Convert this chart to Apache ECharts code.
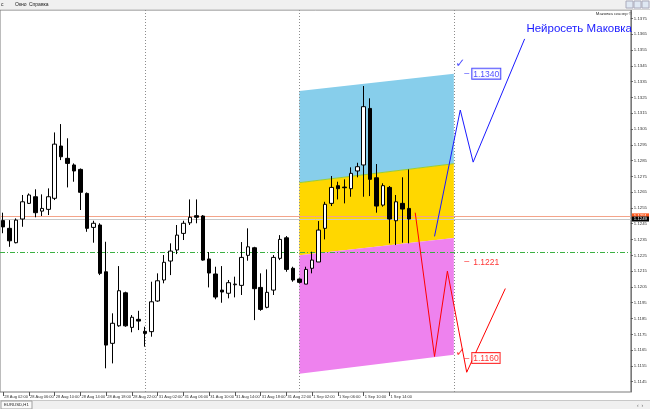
<!DOCTYPE html>
<html><head><meta charset="utf-8">
<script src="https://cdn.jsdelivr.net/npm/echarts@6/dist/echarts.min.js"></script>
<style>html,body{margin:0;padding:0;background:#fff;}#c{width:650px;height:409px;}</style>
</head><body><div id="c"></div>
<script>
const times = [
'28 Aug 02:00','28 Aug 03:00','28 Aug 04:00','28 Aug 05:00','28 Aug 06:00','28 Aug 07:00','28 Aug 08:00','28 Aug 09:00','28 Aug 10:00','28 Aug 11:00','28 Aug 12:00','28 Aug 13:00','28 Aug 14:00','28 Aug 15:00','28 Aug 16:00','28 Aug 17:00','28 Aug 18:00','28 Aug 19:00','28 Aug 20:00','28 Aug 21:00','28 Aug 22:00','28 Aug 23:00',
'31 Aug 00:00','31 Aug 01:00','31 Aug 02:00','31 Aug 03:00','31 Aug 04:00','31 Aug 05:00','31 Aug 06:00','31 Aug 07:00','31 Aug 08:00','31 Aug 09:00','31 Aug 10:00','31 Aug 11:00','31 Aug 12:00','31 Aug 13:00','31 Aug 14:00','31 Aug 15:00','31 Aug 16:00','31 Aug 17:00','31 Aug 18:00','31 Aug 19:00','31 Aug 20:00','31 Aug 21:00','31 Aug 22:00','31 Aug 23:00',
'1 Sep 00:00','1 Sep 01:00','1 Sep 02:00','1 Sep 03:00','1 Sep 04:00','1 Sep 05:00','1 Sep 06:00','1 Sep 07:00','1 Sep 08:00','1 Sep 09:00','1 Sep 10:00','1 Sep 11:00','1 Sep 12:00','1 Sep 13:00','1 Sep 14:00','1 Sep 15:00','1 Sep 16:00','1 Sep 17:00','1 Sep 18:00','1 Sep 19:00','1 Sep 20:00','1 Sep 21:00','1 Sep 22:00','1 Sep 23:00',
'2 Sep 00:00','2 Sep 01:00','2 Sep 02:00','2 Sep 03:00','2 Sep 04:00','2 Sep 05:00','2 Sep 06:00','2 Sep 07:00','2 Sep 08:00','2 Sep 09:00','2 Sep 10:00','2 Sep 11:00','2 Sep 12:00','2 Sep 13:00','2 Sep 14:00','2 Sep 15:00','2 Sep 16:00','2 Sep 17:00','2 Sep 18:00','2 Sep 19:00','2 Sep 20:00','2 Sep 21:00','2 Sep 22:00','2 Sep 23:00',
'3 Sep 00:00','3 Sep 01:00','3 Sep 02:00','3 Sep 03:00'
];
// only these time labels are printed on the axis (the last bar label is 1 Sep 14:00)
const timeTicksShown = ['28 Aug 02:00','28 Aug 06:00','28 Aug 10:00','28 Aug 14:00','28 Aug 18:00','28 Aug 22:00','31 Aug 02:00','31 Aug 06:00','31 Aug 10:00','31 Aug 14:00','31 Aug 18:00','31 Aug 22:00','1 Sep 02:00','1 Sep 06:00','1 Sep 10:00','1 Sep 14:00'];
// [open, close, low, high]
const ohlc = [
[1.12470,1.12430,1.12390,1.12520],
[1.12421,1.12342,1.12304,1.12473],
[1.12330,1.12473,1.12326,1.12484],
[1.12480,1.12589,1.12431,1.12632],
[1.12579,1.12632,1.12575,1.12642],
[1.12621,1.12520,1.12491,1.12668],
[1.12530,1.12547,1.12499,1.12636],
[1.12541,1.12621,1.12505,1.12674],
[1.12611,1.12954,1.12600,1.13028],
[1.12942,1.12874,1.12853,1.13081],
[1.12864,1.12832,1.12680,1.12991],
[1.12822,1.12784,1.12716,1.12832],
[1.12794,1.12649,1.12537,1.12800],
[1.12642,1.12421,1.12399,1.12648],
[1.12427,1.12453,1.12330,1.12469],
[1.12442,1.12136,1.12125,1.12453],
[1.12146,1.11682,1.11535,1.12336],
[1.11693,1.11820,1.11566,1.11883],
[1.11804,1.12026,1.11798,1.12182],
[1.12013,1.11804,1.11798,1.12020],
[1.11794,1.11858,1.11763,1.11872],
[1.11845,1.11834,1.11777,1.11899],
[1.11769,1.11756,1.11672,1.11798],
[1.11767,1.11956,1.11735,1.12083],
[1.11961,1.12089,1.11956,1.12136],
[1.12094,1.12206,1.12073,1.12252],
[1.12214,1.12277,1.12125,1.12326],
[1.12284,1.12378,1.12258,1.12442],
[1.12389,1.12453,1.12347,1.12469],
[1.12456,1.12491,1.12442,1.12604],
[1.12501,1.12491,1.12453,1.12604],
[1.12499,1.12220,1.12216,1.12505],
[1.12227,1.12138,1.12047,1.12271],
[1.12132,1.11986,1.11972,1.12178],
[1.12030,1.12018,1.11950,1.12182],
[1.12010,1.12077,1.11978,1.12094],
[1.12064,1.12068,1.11984,1.12115],
[1.12060,1.12237,1.11999,1.12334],
[1.12250,1.12304,1.12216,1.12421],
[1.12298,1.12039,1.11840,1.12304],
[1.12047,1.11908,1.11899,1.12136],
[1.11921,1.12016,1.11915,1.12161],
[1.12030,1.12237,1.11999,1.12252],
[1.12231,1.12351,1.12220,1.12378],
[1.12361,1.12161,1.12146,1.12372],
[1.12168,1.12094,1.12083,1.12178],
[1.12100,1.12079,1.12073,1.12104],
[1.12068,1.12161,1.12068,1.12178],
[1.12168,1.12220,1.12136,1.12273],
[1.12208,1.12410,1.12208,1.12467],
[1.12421,1.12573,1.12351,1.12589],
[1.12579,1.12680,1.12562,1.12752],
[1.12691,1.12672,1.12604,1.12716],
[1.12682,1.12678,1.12579,1.12731],
[1.12672,1.12769,1.12621,1.12807],
[1.12784,1.12811,1.12744,1.12836],
[1.12822,1.13191,1.12621,1.13322],
[1.13180,1.12731,1.12625,1.13244],
[1.12741,1.12562,1.12520,1.12828],
[1.12568,1.12691,1.12558,1.12706],
[1.12680,1.12480,1.12326,1.12689],
[1.12469,1.12589,1.12315,1.12632],
[1.12579,1.12543,1.12330,1.12744],
[1.12547,1.12480,1.12326,1.12794]
];
const priceTicks = [1.1145,1.1155,1.1165,1.1175,1.1185,1.1195,1.1205,1.1215,1.1225,1.1235,1.1245,1.1255,1.1265,1.1275,1.1285,1.1295,1.1305,1.1315,1.1325,1.1335,1.1345,1.1355,1.1365,1.1375];
const separators = ['31 Aug 00:00','1 Sep 00:00','2 Sep 00:00'];
// channel bands: values at start and end index
const bandStartEnd = [46, 70];
const blueTop = [1.1329, 1.1340];
const blueYellow = [1.1271, 1.1283];
const yellowPink = [1.1225, 1.1236];
const pinkBottom = [1.1150, 1.1162];
// forecast paths [index, price]
const redPath = [[64,1.1252],[67,1.1161],[69,1.1215],[72,1.1151],[78,1.1204]];
const bluePath = [[67,1.1237],[71,1.1317],[73,1.1284],[81,1.1362]];
const askLine = 1.1250, bidLine = 1.1248, greenLevel = 1.1227;
const askText = '1.1251', bidText = '1.1249';
const levelLabels = [[71,1.1340,'1.1340','b'],[71,1.1221,'1.1221','r'],[71,1.1160,'1.1160','r']];
const checks = [[71,1.1346,'b'],[71,1.1163,'r']];

const FONT = 'Liberation Sans';
const BLUE = '#1a1aff', RED = '#ff0000';
const chart = echarts.init(document.getElementById('c'), null, {renderer:'canvas'});

const bands = [
  {lo: blueYellow, hi: blueTop, color:'#87CEEB'},
  {lo: yellowPink, hi: blueYellow, color:'#FFD700'},
  {lo: pinkBottom, hi: yellowPink, color:'#EE82EE'}
];

chart.setOption({
  animation:false,
  backgroundColor:'#fff',
  title:{text:'Нейросеть Маковка', right:13, top:18,
    textStyle:{color:BLUE, fontSize:11.5, fontWeight:'normal', fontFamily:FONT}},
  grid:{left:-2, right:15, top:10, bottom:17, show:true, borderColor:'#7a7a7a', borderWidth:1, backgroundColor:'transparent'},
  xAxis:{type:'category', data:times, boundaryGap:true,
    axisLine:{show:false},
    axisTick:{show:true, interval:(i,v)=>timeTicksShown.indexOf(v)>=0, length:4, inside:false, lineStyle:{color:'#555'}, alignWithLabel:true},
    axisLabel:{interval:(i,v)=>timeTicksShown.indexOf(v)>=0, showMinLabel:true, hideOverlap:false, fontSize:4, color:'#333', fontFamily:FONT, align:'left', margin:3, padding:[0,0,0,1]},
    splitLine:{show:false}},
  yAxis:{type:'value', position:'right', min:1.11385, max:1.13803,
    axisLine:{show:true, lineStyle:{color:'#7a7a7a'}},
    axisTick:{show:true, length:2, customValues:priceTicks, lineStyle:{color:'#555'}},
    axisLabel:{customValues:priceTicks, fontSize:4.3, color:'#333', fontFamily:FONT, margin:3,
      formatter:(v)=>v.toFixed(4)},
    splitLine:{show:false}},
  series:[
    {type:'custom', name:'bands', silent:true, z:1,
      data: bands.map((b,i)=>[i]),
      renderItem:(params, api)=>{
        const b = bands[params.dataIndex];
        const p1 = api.coord([bandStartEnd[0], b.lo[0]]);
        const p2 = api.coord([bandStartEnd[1], b.lo[1]]);
        const p3 = api.coord([bandStartEnd[1], b.hi[1]]);
        const p4 = api.coord([bandStartEnd[0], b.hi[0]]);
        return {type:'polygon', shape:{points:[p1,p2,p3,p4]}, style:{fill:b.color, stroke:null}};
      }},
    {type:'line', name:'boundary', silent:true, z:2, symbol:'none',
      data:[[bandStartEnd[0], blueYellow[0]],[bandStartEnd[1], blueYellow[1]]],
      lineStyle:{color:'#9ACD32', width:1}},
    {type:'candlestick', name:'EURUSD', z:5, barWidth:4,
      data: ohlc,
      itemStyle:{color:'#ffffff', color0:'#000000', borderColor:'#000000', borderColor0:'#000000', borderWidth:1},
      markLine:{silent:true, symbol:'none', animation:false, precision:5,
        data:[
          {yAxis:askLine, lineStyle:{color:'#f4a48a', width:1, type:'solid'},
            label:{show:true, position:'end', formatter:askText, backgroundColor:'#ff5a1e', color:'#fff', fontSize:4.3, padding:[1,2,0,2], distance:1, fontFamily:FONT}},
          {yAxis:bidLine, lineStyle:{color:'#c8c8c8', width:1, type:'solid'},
            label:{show:true, position:'end', formatter:bidText, backgroundColor:'#000', color:'#fff', fontSize:4.3, padding:[1,2,0,2], distance:1, fontFamily:FONT}},
          {yAxis:greenLevel, lineStyle:{color:'#3cb043', width:1, type:[5,2,1,2]}, label:{show:false}},
          ...separators.map(s=>({xAxis:s, lineStyle:{color:'#8c8c8c', width:1, type:[1,2]}, label:{show:false}}))
        ]}},
    {type:'line', name:'red', z:6, symbol:'none', data:redPath, lineStyle:{color:RED, width:1}},
    {type:'line', name:'blue', z:6, symbol:'none', data:bluePath, lineStyle:{color:BLUE, width:1}},
    {type:'scatter', name:'levels', z:7, symbolSize:0, silent:true,
      data: levelLabels.map(d=>({value:[d[0], d[1]], kind:d[3], txt:d[2]})),
      label:{show:true, position:'right', distance:4,
        formatter:(p)=> p.data.kind==='b' ? '{bd|–}{bb|'+p.data.txt+'}' : (p.data.txt==='1.1160' ? '{rd|–}{rb|'+p.data.txt+'}' : '{rd|–}{rt|'+p.data.txt+'}'),
        rich:{
          bd:{color:BLUE, fontSize:9, fontFamily:FONT, padding:[0,3,0,0]},
          bb:{color:BLUE, fontSize:8.5, fontFamily:FONT, borderColor:BLUE, borderWidth:1, padding:[1,1,0,1], backgroundColor:'#fff'},
          rd:{color:RED, fontSize:9, fontFamily:FONT, padding:[0,3,0,0]},
          rb:{color:RED, fontSize:8.5, fontFamily:FONT, borderColor:RED, borderWidth:1, padding:[1,1,0,1], backgroundColor:'#fff'},
          rt:{color:RED, fontSize:8.5, fontFamily:FONT, padding:[1,1,0,1]}
        }}},
    {type:'scatter', name:'checks', z:7, symbolSize:0, silent:true,
      data: checks.map(d=>({value:[d[0], d[1]], label:{color: d[2]==='b' ? BLUE : RED}})),
      label:{show:true, position:'inside', offset:[0,0], formatter:'✓', fontSize:12, fontWeight:'bold', fontFamily:'DejaVu Sans'}}
  ],
  graphic:[
    {type:'rect', shape:{x:0,y:0,width:650,height:9}, style:{fill:'#f0f0f0'}, z:100},
    {type:'line', shape:{x1:0,y1:9.5,x2:650,y2:9.5}, style:{stroke:'#d4d4d4'}, z:100},
    {type:'text', x:1, y:2, style:{text:'с', fontSize:5, fill:'#222', fontFamily:FONT}, z:101},
    {type:'text', x:15, y:2, style:{text:'Окно', fontSize:5, fill:'#222', fontFamily:FONT}, z:101},
    {type:'text', x:29, y:2, style:{text:'Справка', fontSize:5, fill:'#222', fontFamily:FONT}, z:101},
    {type:'rect', shape:{x:626,y:1,width:7,height:7}, style:{fill:'#dfe8f3', stroke:'#aab'}, z:101},
    {type:'rect', shape:{x:634,y:1,width:7,height:7}, style:{fill:'#dfe8f3', stroke:'#aab'}, z:101},
    {type:'rect', shape:{x:642,y:1,width:7,height:7}, style:{fill:'#dfe8f3', stroke:'#aab'}, z:101},
    {type:'text', x:632, y:12, style:{text:'Маковка сканер ©', fontSize:4.3, fill:'#333', fontFamily:FONT, align:'right'}, z:101},
    {type:'rect', shape:{x:0,y:400,width:650,height:9}, style:{fill:'#f0f0f0'}, z:100},
    {type:'line', shape:{x1:0,y1:400.5,x2:650,y2:400.5}, style:{stroke:'#c8c8c8'}, z:100},
    {type:'rect', shape:{x:1,y:401,width:31,height:8}, style:{fill:'#fafafa', stroke:'#a0a0a0'}, z:101},
    {type:'text', x:4, y:403, style:{text:'EURUSD,H1', fontSize:4.3, fill:'#222', fontFamily:FONT}, z:102},
    {type:'text', x:637, y:403, style:{text:'‹  ›', fontSize:5, fill:'#666', fontFamily:FONT}, z:102}
  ]
});
</script></body></html>
